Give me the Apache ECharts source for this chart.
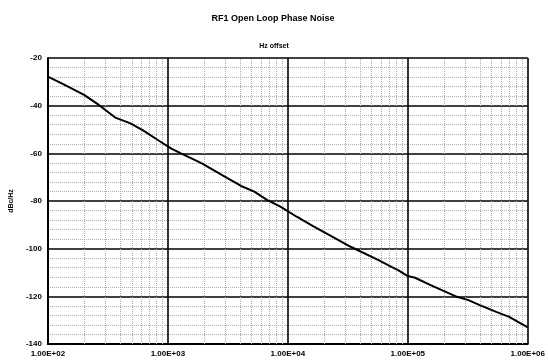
<!DOCTYPE html>
<html>
<head>
<meta charset="utf-8">
<script src="https://cdn.jsdelivr.net/npm/echarts@6/dist/echarts.min.js"></script>
<style>html,body{margin:0;padding:0;background:#fff;}#c{width:548px;height:364px;}</style>
</head>
<body>
<div id="c"></div>
<script>
// Data
var freqHz = [100, 138, 200, 266, 364, 483, 621, 824, 1060, 1285, 1920, 2980, 4080, 5250, 6750, 8670,
  11860, 16220, 22230, 33420, 57000, 73100, 83000, 100000, 115000, 155000, 257000, 320000, 398000, 546000, 700000, 1000000];
var phaseNoise = [-27.8, -31.3, -35.5, -39.7, -45.0, -47.3, -50.4, -54.4, -57.9, -60.0, -64.2, -69.8, -73.7, -76.1, -79.6, -82.4,
  -86.6, -90.5, -94.3, -99.2, -104.8, -107.6, -109.0, -111.5, -112.2, -115.3, -120.2, -121.6, -123.7, -126.5, -128.6, -133.0];
var xTickLabels = {100: '1.00E+02', 1000: '1.00E+03', 10000: '1.00E+04', 100000: '1.00E+05', 1000000: '1.00E+06'};
var decades = [100, 1000, 10000, 100000];
var minorMult = [2, 3, 4, 5, 6, 7, 8, 9];

var minorX = [];
decades.forEach(function (d) { minorMult.forEach(function (m) { minorX.push({xAxis: d * m}); }); });

var chart = echarts.init(document.getElementById('c'), null, {renderer: 'canvas'});
var font = 'Liberation Sans, Arial, sans-serif';
chart.setOption({
  animation: false,
  backgroundColor: '#fff',
  title: [
    {text: 'RF1 Open Loop Phase Noise', left: 268, top: 9, textAlign: 'center',
     textStyle: {fontFamily: font, fontSize: 9, fontWeight: 'bold', color: '#000'}},
    {text: 'Hz offset', left: 269, top: 38, textAlign: 'center',
     textStyle: {fontFamily: font, fontSize: 7, fontWeight: 'bold', color: '#000'}}
  ],
  grid: {left: 43, right: 16, top: 58, bottom: 20, containLabel: false},
  xAxis: {
    type: 'log', logBase: 10, min: 100, max: 1000000,
    axisLine: {show: true, lineStyle: {color: '#000', width: 2}},
    axisTick: {show: false},
    axisLabel: {fontFamily: font, fontSize: 8, fontWeight: 'bold', color: '#000', margin: 6,
      formatter: function (v) { return xTickLabels[Math.round(v)] || ''; }},
    splitLine: {show: true, lineStyle: {color: '#000', width: 1.6}}
  },
  yAxis: {
    type: 'value', min: -140, max: -20, interval: 20,
    name: 'dBc/Hz', nameLocation: 'middle', nameGap: 29, nameRotate: 90,
    nameTextStyle: {fontFamily: font, fontSize: 7, fontWeight: 'bold', color: '#000'},
    axisLine: {show: true, lineStyle: {color: '#000', width: 2}},
    axisTick: {show: false},
    axisLabel: {fontFamily: font, fontSize: 8, fontWeight: 'bold', color: '#000', margin: 6},
    splitLine: {show: true, lineStyle: {color: '#000', width: 1.6}},
    minorTick: {show: false, splitNumber: 5},
    minorSplitLine: {show: true, lineStyle: {color: '#aaa', width: 1, type: 'dotted'}}
  },
  series: [{
    type: 'line',
    data: freqHz.map(function (f, i) { return [f, phaseNoise[i]]; }),
    showSymbol: false, symbol: 'none',
    lineStyle: {color: '#000', width: 2},
    z: 5,
    markLine: {
      silent: true, symbol: 'none', label: {show: false},
      lineStyle: {color: '#aaa', width: 1, type: 'dotted'},
      data: minorX, z: 1
    }
  }]
});
</script>
</body>
</html>
